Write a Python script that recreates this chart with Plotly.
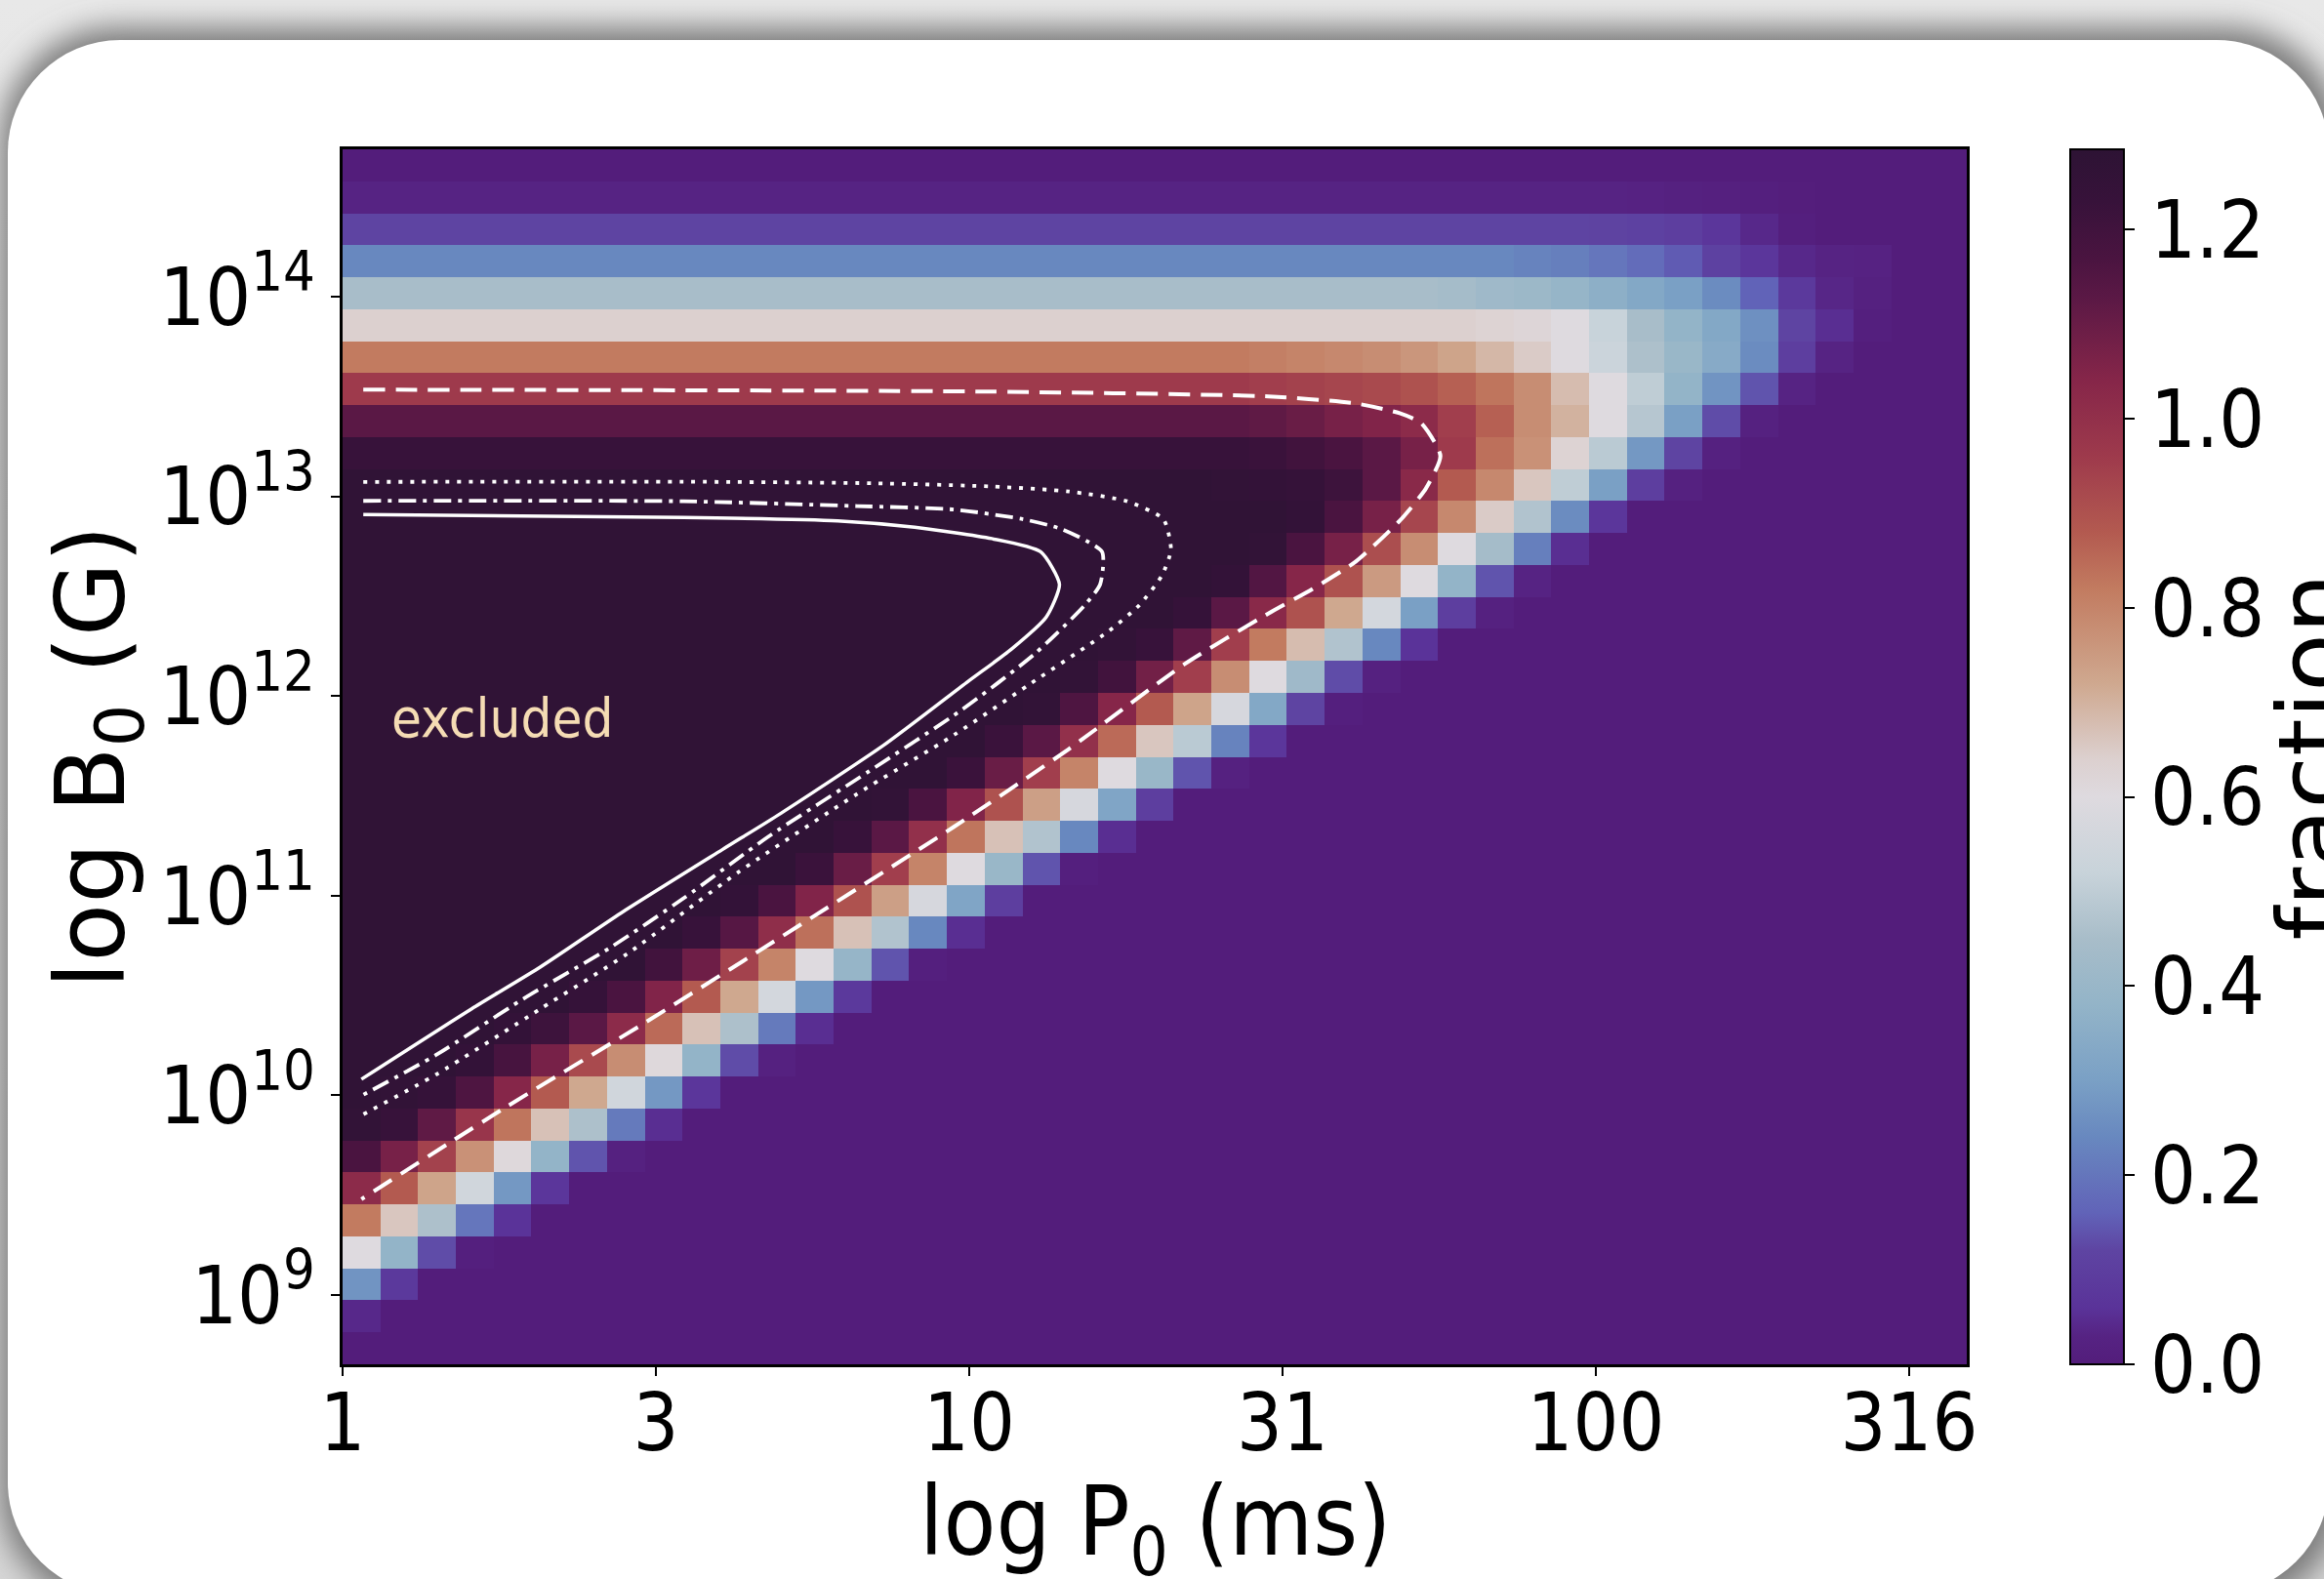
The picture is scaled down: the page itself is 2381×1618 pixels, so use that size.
import base64
import numpy as np
import plotly.graph_objects as go

# ---------------- data ----------------
N_COLS = 43                      # log P0 bins, 1 ms .. ~390 ms
LOGP_MIN, LOGP_MAX = 0.0, 2.592
LOGB_MIN, LOGB_MAX = 8.653, 14.739

# rows listed from the top (highest B0) to the bottom
ROW_PLATEAU = [0.0, 0.03, 0.12, 0.24, 0.45, 0.64, 0.82, 0.96, 1.13, 1.23,
               1.27, 1.27, 1.27, 1.27, 1.27, 1.27, 1.27, 1.27, 1.27, 1.27,
               1.27, 1.27, 1.27, 1.27, 1.27, 1.27, 1.27, 1.27, 1.27, 1.27,
               1.27, 1.27, 1.27, 1.27, 1.27, 1.27, 1.27, 1.27]
ROW_TAIL_START = [43, 34, 33, 31, 29, 30, 24, 24, 24, 24,
                  23, 25, 24, 23, 22, 20, 19, 18, 17, 16,
                  14, 13, 12, 10, 9, 8, 6, 4, 3, 1,
                  0, 0, 0, 0, 0, 0, 0, 0]
ROW_TAIL = [
    [],
    [0.025, 0.02, 0.015, 0.01, 0.005],
    [0.115, 0.11, 0.1, 0.07, 0.04, 0.01],
    [0.23, 0.22, 0.2, 0.18, 0.15, 0.11, 0.07, 0.04, 0.03, 0.025],
    [0.44, 0.42, 0.41, 0.39, 0.36, 0.33, 0.3, 0.25, 0.16, 0.08, 0.035, 0.02],
    [0.63, 0.62, 0.6, 0.52, 0.45, 0.38, 0.33, 0.26, 0.12, 0.05, 0.01],
    [0.81, 0.8, 0.79, 0.78, 0.76, 0.73, 0.69, 0.65, 0.6, 0.53, 0.46, 0.4, 0.34, 0.25, 0.1, 0.03],
    [0.95, 0.94, 0.93, 0.92, 0.9, 0.87, 0.83, 0.78, 0.68, 0.6, 0.5, 0.38, 0.27, 0.14, 0.03],
    [1.12, 1.1, 1.07, 1.05, 1.02, 0.95, 0.87, 0.78, 0.7, 0.6, 0.48, 0.3, 0.13, 0.02],
    [1.22, 1.2, 1.17, 1.13, 1.07, 0.96, 0.84, 0.77, 0.63, 0.49, 0.28, 0.12, 0.02],
    [1.26, 1.25, 1.24, 1.21, 1.13, 1.03, 0.88, 0.79, 0.66, 0.5, 0.3, 0.1, 0.02],
    [1.25, 1.17, 1.07, 0.93, 0.79, 0.65, 0.47, 0.25, 0.07],
    [1.26, 1.17, 1.07, 0.91, 0.78, 0.6, 0.44, 0.22, 0.05],
    [1.25, 1.15, 1.04, 0.9, 0.75, 0.6, 0.38, 0.14, 0.03],
    [1.24, 1.13, 1.03, 0.9, 0.72, 0.56, 0.3, 0.1, 0.02],
    [1.26, 1.23, 1.12, 0.95, 0.82, 0.68, 0.47, 0.24, 0.06],
    [1.26, 1.2, 1.08, 0.95, 0.78, 0.6, 0.42, 0.13, 0.02],
    [1.26, 1.16, 1.04, 0.88, 0.73, 0.57, 0.33, 0.12, 0.01],
    [1.22, 1.13, 1.0, 0.85, 0.66, 0.49, 0.23, 0.07],
    [1.22, 1.1, 0.95, 0.8, 0.6, 0.4, 0.14, 0.02],
    [1.26, 1.17, 1.05, 0.9, 0.74, 0.57, 0.32, 0.1],
    [1.23, 1.13, 1.0, 0.83, 0.67, 0.47, 0.24, 0.05],
    [1.22, 1.1, 0.95, 0.8, 0.6, 0.4, 0.14, 0.01],
    [1.25, 1.17, 1.05, 0.9, 0.74, 0.57, 0.32, 0.1],
    [1.23, 1.14, 1.01, 0.84, 0.67, 0.47, 0.24, 0.05],
    [1.2, 1.09, 0.94, 0.8, 0.6, 0.39, 0.14, 0.01],
    [1.24, 1.17, 1.05, 0.88, 0.72, 0.56, 0.28, 0.08],
    [1.25, 1.21, 1.13, 1.02, 0.85, 0.67, 0.46, 0.21, 0.05],
    [1.25, 1.18, 1.07, 0.92, 0.78, 0.61, 0.38, 0.13, 0.02],
    [1.26, 1.24, 1.16, 1.04, 0.88, 0.72, 0.55, 0.28, 0.07],
    [1.26, 1.23, 1.12, 0.98, 0.83, 0.67, 0.46, 0.21, 0.05],
    [1.17, 1.07, 0.94, 0.77, 0.61, 0.38, 0.14, 0.02],
    [1.02, 0.88, 0.73, 0.55, 0.28, 0.07],
    [0.82, 0.66, 0.46, 0.2, 0.06],
    [0.6, 0.38, 0.13, 0.01],
    [0.27, 0.08],
    [0.04],
    [],
]

# contour curves (log10 P0 [ms], log10 B0 [G])
DASHED_LOGP = [0.033, 1.011, 1.478, 1.617, 1.687, 1.721, 1.752, 1.729, 1.687, 1.617,
               1.548, 1.478, 1.344, 1.159, 0.975, 0.706, 0.483, 0.262, 0.030]
DASHED_LOGB = [13.535, 13.526, 13.501, 13.466, 13.417, 13.368, 13.204, 13.041, 12.878, 12.674,
               12.537, 12.415, 12.161, 11.735, 11.344, 10.806, 10.365, 9.944, 9.480]
DOTTED_LOGP = [0.033, 0.544, 0.852, 1.036, 1.159, 1.252, 1.310, 1.322, 1.307, 1.271, 1.221,
               1.098, 0.975, 0.821, 0.632, 0.456, 0.316, 0.150, 0.030]
DOTTED_LOGB = [13.073, 13.074, 13.066, 13.050, 13.025, 12.976, 12.886, 12.732, 12.601, 12.454, 12.322,
               12.063, 11.804, 11.510, 11.119, 10.713, 10.434, 10.106, 9.900]
DASHDOT_LOGP = [0.033, 0.544, 0.821, 0.975, 1.086, 1.147, 1.212, 1.209, 1.184, 1.104,
                0.988, 0.840, 0.679, 0.544, 0.428, 0.288, 0.150, 0.030]
DASHDOT_LOGB = [12.978, 12.976, 12.952, 12.935, 12.886, 12.837, 12.723, 12.560, 12.454, 12.210,
                11.931, 11.623, 11.295, 10.987, 10.742, 10.483, 10.204, 9.998]
SOLID_LOGP = [0.033, 0.544, 0.790, 0.913, 1.036, 1.114, 1.144, 1.123, 1.067, 0.998,
              0.864, 0.699, 0.606, 0.444, 0.316, 0.206, 0.030]
SOLID_LOGB = [12.909, 12.895, 12.878, 12.846, 12.789, 12.723, 12.560, 12.396, 12.234, 12.073,
              11.755, 11.412, 11.231, 10.913, 10.644, 10.434, 10.081]

X_TICKVALS = [0, 0.5, 1.0, 1.5, 2.0, 2.5]
X_TICKTEXT = ["1", "3", "10", "31", "100", "316"]
Y_TICKVALS = [9, 10, 11, 12, 13, 14]
Y_TICKTEXT = ["10<sup>9</sup>", "10<sup>10</sup>", "10<sup>11</sup>",
              "10<sup>12</sup>", "10<sup>13</sup>", "10<sup>14</sup>"]
CB_TICKVALS = [0.0, 0.2, 0.4, 0.6, 0.8, 1.0, 1.2]
CB_TICKTEXT = ["0.0", "0.2", "0.4", "0.6", "0.8", "1.0", "1.2"]
ZMAX = 1.285

COLOR_STOPS = [(0.00, "#531d7b"), (0.03, "#562383"), (0.06, "#5a3399"), (0.12, "#5e44a2"),
               (0.16, "#6163b8"), (0.24, "#6888bf"), (0.30, "#7aa0c5"), (0.38, "#93b4c8"),
               (0.45, "#a8bdc9"), (0.52, "#c8d3da"), (0.60, "#dedadf"), (0.64, "#dcd0cf"),
               (0.72, "#cfa88f"), (0.82, "#c27b60"), (0.88, "#b35a50"), (0.96, "#9e3a4c"),
               (1.04, "#862649"), (1.13, "#5a1845"), (1.17, "#4a1440"), (1.23, "#37123a"),
               (1.285, "#2d1334")]

# ---------------- build ----------------
rows = []
for plat, start, tail in zip(ROW_PLATEAU, ROW_TAIL_START, ROW_TAIL):
    row = [plat] * start + list(tail)
    row += [0.0] * (N_COLS - len(row))
    rows.append(row[:N_COLS])
z = np.array(rows[::-1])  # bottom row first for plotly
n_rows = z.shape[0]
x_edges = np.linspace(LOGP_MIN, LOGP_MAX, N_COLS + 1)
y_edges = np.linspace(LOGB_MIN, LOGB_MAX, n_rows + 1)

colorscale = [[v / ZMAX, c] for v, c in COLOR_STOPS]

W, H = 2381, 1618
ML, MR, MT, MB = 351, 366, 153, 220
PW, PH = W - ML - MR, H - MT - MB

FONT = "DejaVu Sans Condensed, DejaVu Sans, sans-serif"
FONT_WIDE = "DejaVu Sans, sans-serif"

fig = go.Figure()
fig.add_trace(go.Heatmap(
    x=x_edges, y=y_edges, z=z, zmin=0, zmax=ZMAX, colorscale=colorscale,
    zsmooth=False, hoverinfo="skip",
    colorbar=dict(
        thickness=55, thicknessmode="pixels", len=1, lenmode="fraction",
        x=(2121 - ML) / PW, xanchor="left", xpad=0, y=0.5, yanchor="middle", ypad=0,
        outlinewidth=2, outlinecolor="black",
        tickvals=CB_TICKVALS, ticktext=CB_TICKTEXT, ticks="outside", ticklen=10,
        tickwidth=2, tickcolor="black",
        tickfont=dict(family=FONT, size=82, color="black"),
    ),
))

for lp, lb, dash, w in [(DASHED_LOGP, DASHED_LOGB, "22px,11px", 4),
                        (DOTTED_LOGP, DOTTED_LOGB, "4px,8px", 3.8),
                        (DASHDOT_LOGP, DASHDOT_LOGB, "18px,7px,4px,7px", 3.8),
                        (SOLID_LOGP, SOLID_LOGB, "solid", 3.5)]:
    fig.add_trace(go.Scatter(x=lp, y=lb, mode="lines", hoverinfo="skip", showlegend=False,
                             line=dict(color="white", width=w, dash=dash, shape="spline", smoothing=0.6)))

fig.add_annotation(x=0.255, y=11.892, xref="x", yref="y", text="excluded", showarrow=False,
                   font=dict(family=FONT, size=56, color="#f5dcb4"))

# x-axis title (placed low, partly running off the bottom as in the reference)
fig.add_annotation(x=0.5, y=1 - (1500 - MT) / PH, xref="paper", yref="paper",
                   text="log P<sub>0</sub> (ms)", showarrow=False, xanchor="center", yanchor="top",
                   font=dict(family=FONT, size=98, color="black"))

fig.add_annotation(x=(2310 - ML) / PW, y=0.5, xref="paper", yref="paper", text="fraction",
                   textangle=-90, showarrow=False, xanchor="left", yanchor="middle",
                   font=dict(family=FONT_WIDE, size=98, color="black"))

# background card (rounded, with soft shadow)
svg = f'''<svg xmlns="http://www.w3.org/2000/svg" width="{W}" height="{H}" viewBox="0 0 {W} {H}">
<defs>
<linearGradient id="bg" x1="0" y1="0" x2="0" y2="1"><stop offset="0" stop-color="#e8e8e8"/><stop offset="1" stop-color="#d6d6d6"/></linearGradient>
<filter id="bl" x="-20%" y="-20%" width="140%" height="140%"><feGaussianBlur stdDeviation="15"/></filter>
</defs>
<rect width="{W}" height="{H}" fill="url(#bg)"/>
<rect x="0" y="28" width="2400" height="1620" rx="120" fill="#7a7a7a" filter="url(#bl)"/>
<rect x="8" y="41" width="2378" height="1593" rx="115" fill="#ffffff"/>
</svg>'''
src = "data:image/svg+xml;base64," + base64.b64encode(svg.encode()).decode()
fig.add_layout_image(dict(source=src, xref="paper", yref="paper", x=-ML / PW, y=1 + MT / PH,
                          sizex=W / PW, sizey=H / PH, xanchor="left", yanchor="top",
                          sizing="stretch", layer="below"))

axis_common = dict(showline=True, mirror=True, linecolor="black", linewidth=2.5,
                   ticks="outside", ticklen=9, tickwidth=2, tickcolor="black",
                   showgrid=False, zeroline=False)
fig.update_xaxes(range=[LOGP_MIN, LOGP_MAX], tickvals=X_TICKVALS, ticktext=X_TICKTEXT,
                 tickfont=dict(family=FONT, size=82, color="black"), ticklabelstandoff=-22,
                 **axis_common)
fig.update_yaxes(range=[LOGB_MIN, LOGB_MAX], tickvals=Y_TICKVALS, ticktext=Y_TICKTEXT,
                 tickfont=dict(family=FONT, size=82, color="black"),
                 title=dict(text="log B<sub>0</sub> (G)", font=dict(family=FONT_WIDE, size=98, color="black"),
                            standoff=0),
                 **axis_common)

fig.update_layout(width=W, height=H, margin=dict(l=ML, r=MR, t=MT, b=MB, autoexpand=False),
                  paper_bgcolor="white", plot_bgcolor="rgba(0,0,0,0)", showlegend=False,
                  font=dict(family=FONT))

fig.write_html("out.html")
